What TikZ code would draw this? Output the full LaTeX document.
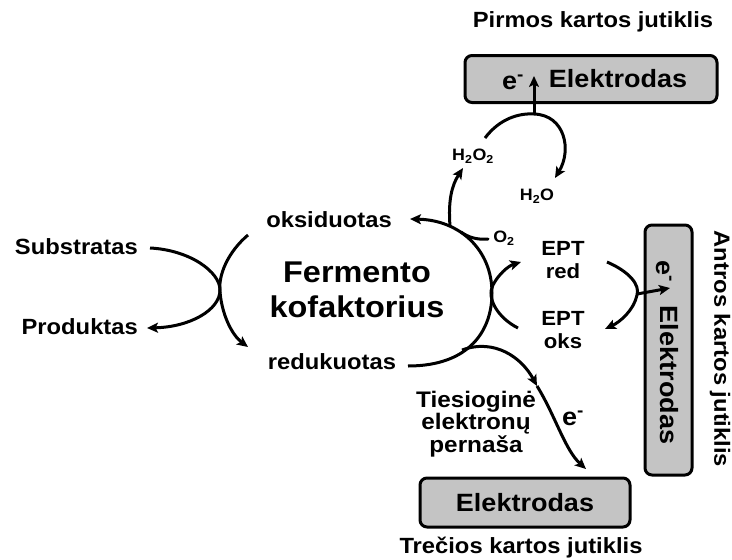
\documentclass[tikz,border=0pt]{standalone}
\usepackage{fontspec}
\setmainfont[FakeStretch=1.08]{Liberation Sans}
\usetikzlibrary{arrows.meta}
\definecolor{electrodegray}{HTML}{C4C4C4}
\tikzset{
  flowarrow/.style={-{Stealth[length=11pt,width=10pt,inset=2.5pt]}, line width=3pt},
  flowline/.style={line width=3pt, line cap=round},
  electrode/.style={draw, rounded corners=7pt, line width=3pt, fill=electrodegray},
  titletext/.style={font=\bfseries\fontsize{22}{24}\selectfont, inner sep=0pt},
  plaintext/.style={font=\bfseries\fontsize{22}{23}\selectfont, inner sep=0pt, align=center},
  epttext/.style={font=\bfseries\fontsize{20.5}{23}\selectfont, inner sep=0pt, align=center},
  chemtext/.style={font=\bfseries\fontsize{16.5}{19}\selectfont, inner sep=0pt},
  eltext/.style={font=\bfseries\fontsize{25}{27}\selectfont, inner sep=0pt},
  bigtext/.style={font=\bfseries\fontsize{30}{35}\selectfont, inner sep=0pt, align=center}
}

\begin{document}
\begin{tikzpicture}[x=1pt, y=-1pt]
  \useasboundingbox (0,0) rectangle (732,560);

  % first generation sensor
  \node[titletext] (pirmos) at (593,22) {Pirmos kartos jutiklis};
  \node[electrode, minimum width=252pt, minimum height=47pt] (elektrodA) at (591,79) {};
  \node[eltext] (elA) at (618,79) {Elektrodas};
  \node[eltext] (eA) at (513,82) {e\textsuperscript{-}};
  \node[chemtext] (hpo) at (473,156) {H\textsubscript{2}O\textsubscript{2}};
  \node[chemtext] (water) at (537,196) {H\textsubscript{2}O};
  \node[chemtext] (oxy) at (504,238) {O\textsubscript{2}};

  % second generation sensor
  \node[electrode, minimum width=47pt, minimum height=250pt] (elektrodB) at (668.5,350) {};
  \node[eltext, rotate=-90] (elB) at (669,375) {Elektrodas};
  \node[eltext, rotate=-90] (eB) at (664,271) {e\textsuperscript{-}};
  \node[titletext, rotate=-90] (antros) at (720,349) {Antros kartos jutiklis};
  \node[epttext] (eptred) at (563,260) {EPT\\red};
  \node[epttext] (eptoks) at (563,330) {EPT\\oks};

  % third generation sensor
  \node[electrode, minimum width=210pt, minimum height=49pt] (elektrodC) at (525,502.5) {};
  \node[eltext] (elC) at (525,503) {Elektrodas};
  \node[titletext] (treciosi) at (521,548) {Trečios kartos jutiklis};
  \node[plaintext, font=\bfseries\fontsize{22.5}{19}\selectfont] (tiesiogine) at (476,424) {Tiesioginė\\elektronų\\pernaša};
  \node[eltext] (eC) at (573,418) {e\textsuperscript{-}};

  % enzyme cofactor
  \node[bigtext] (kofaktorius) at (357,290) {Fermento\\kofaktorius};
  \node[plaintext] (oksid) at (329,220) {oksiduotas};
  \node[plaintext] (reduk) at (332,362) {redukuotas};
  \node[plaintext, anchor=east] (substr) at (138,247) {Substratas};
  \node[plaintext, anchor=east] (produkt) at (138,327) {Produktas};

  \coordinate (substrEnd) at (150,248);
  \coordinate (produktEnd) at (147,328);
  \coordinate (leftTop) at (248,235);
  \coordinate (leftBot) at (248,347);
  \coordinate (redukEnd) at (408,366);
  \coordinate (oksidEnd) at (410,219);
  \coordinate (fork) at (450,226);
  \coordinate (oxyEnd) at (488,239);
  \coordinate (hpoEnd) at (463,168);
  \coordinate (hpoStart) at (485,138);
  \coordinate (loopTop) at (534,114);
  \coordinate (waterEnd) at (555,178);
  \coordinate (eAtip) at (534,76);
  \coordinate (eptTop) at (521,262);
  \coordinate (eptBot) at (518,328);
  \coordinate (rightTop) at (607,262);
  \coordinate (rightBot) at (605,329);
  \coordinate (rightMid) at (637,294);
  \coordinate (eBtip) at (670,288);
  \coordinate (directStart) at (462,350);
  \coordinate (directMid) at (537,386);
  \coordinate (directEnd) at (586,469);

  % substrate -> product
  \draw[flowarrow] (substrEnd) .. controls (190,250) and (220,272) .. (220,290)
    .. controls (220,310) and (190,327) .. (produktEnd);
  \draw[flowarrow] (leftTop) .. controls (228,252) and (218,275) .. (220,292)
    .. controls (222,315) and (232,335) .. (leftBot);

  % cofactor cycle
  \draw[flowarrow] (redukEnd) .. controls (470,366) and (492,330) .. (492,293)
    .. controls (492,250) and (460,220) .. (oksidEnd);
  \draw[flowline] (oxyEnd) .. controls (476,240) and (468,237) .. (461,232);
  \draw[flowarrow] (fork) .. controls (448,200) and (452,185) .. (hpoEnd);
  \draw[flowarrow] (hpoStart) .. controls (500,118) and (520,113) .. (loopTop)
    .. controls (565,115) and (572,150) .. (waterEnd);
  \draw[flowarrow] (loopTop) -- (eAtip);

  % mediator
  \draw[flowarrow] (eptBot) .. controls (498,318) and (486,298) .. (493,285)
    .. controls (498,275) and (508,266) .. (eptTop);
  \draw[flowarrow] (rightTop) .. controls (630,272) and (640,285) .. (637,295)
    .. controls (634,310) and (620,322) .. (rightBot);
  \draw[flowarrow] (rightMid) -- (eBtip);

  % direct transfer
  \draw[flowarrow] (directStart) .. controls (495,338) and (522,358) .. (directMid);
  \draw[flowarrow] (directMid) .. controls (555,415) and (565,450) .. (directEnd);
\end{tikzpicture}
\end{document}
